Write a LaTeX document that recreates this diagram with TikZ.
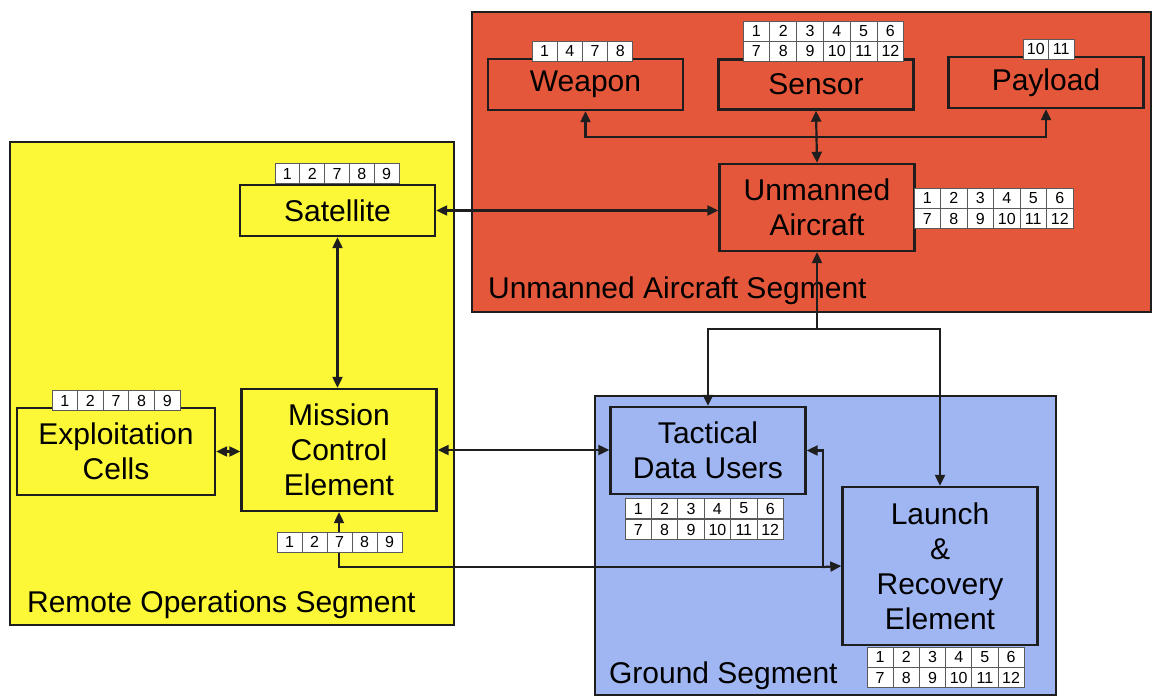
\documentclass[tikz,border=0pt]{standalone}
\usepackage{fontspec}
\setmainfont{Liberation Sans}
\usetikzlibrary{arrows.meta, positioning, calc}
\definecolor{cred}{HTML}{E4573A}
\definecolor{cyellow}{HTML}{FCF838}
\definecolor{cblue}{HTML}{A0B6F2}
\definecolor{cline}{HTML}{1E1E1E}
\definecolor{ccell}{HTML}{5A5A5A}
\tikzset{
  every picture/.style={line width=2.2pt},
  seg/.style={draw=cline, fill=#1, line width=1.6pt},
  box/.style={draw=cline, fill=#1, line width=2.4pt, align=center, inner sep=0pt, minimum width=195pt, font=\fontsize{30}{35}\selectfont},
  box/.default=white,
  cell/.style={draw=ccell, fill=white, line width=1pt, inner sep=0pt, minimum width=#1, minimum height=20pt, font=\fontsize{16}{16}\selectfont},
  cell/.default=25pt,
  link/.style={{Triangle[length=11pt,width=10pt]}-{Triangle[length=11pt,width=10pt]}, draw=cline},
  feed/.style={-{Triangle[length=11pt,width=10pt]}, draw=cline},
  seglabel/.style={anchor=base west, inner sep=0pt, font=\fontsize{30}{35}\selectfont},
}
\begin{document}
\begin{tikzpicture}[x=1pt, y=-1pt]
  \useasboundingbox (0,0) rectangle (1152,696);
  % segments
  \draw[seg=cred] (472,12) rectangle (1151,312);
  \draw[seg=cyellow] (10,142) rectangle (454,625);
  \draw[seg=cblue] (595,396) rectangle (1056,695);
  \node[seglabel] (uas-label) at (487,298) {Unmanned Aircraft Segment};
  \node[seglabel] (ros-label) at (26,612) {Remote Operations Segment};
  \node[seglabel] (gs-label) at (608,683) {Ground Segment};
  % unmanned aircraft segment
  \node[box=cred, minimum height=51pt] (weapon) at (585.5,84.5) {Weapon};
  \node[box=cred, minimum height=50pt] (sensor) at (816,84.5) {Sensor};
  \node[box=cred, minimum height=51pt] (payload) at (1046,82.5) {Payload};
  \node[box=cred, minimum height=87pt] (ua) at (817,207.5) {Unmanned\\Aircraft};
  % remote operations segment
  \node[box=cyellow, minimum height=51pt] (sat) at (337.5,210.5) {Satellite};
  \node[box=cyellow, minimum height=122pt] (mce) at (339,450) {Mission\\Control\\Element};
  \node[box=cyellow, minimum width=198pt, minimum height=87pt] (exp) at (116,451.5) {Exploitation\\Cells};
  % ground segment
  \node[box=cblue, minimum height=87pt] (tdu) at (708,450.5) {Tactical\\Data Users};
  \node[box=cblue, minimum height=158pt] (lre) at (940,566) {Launch\\\&\\Recovery\\Element};
  % links
  \coordinate (bus) at (816,137);
  \draw[link] (weapon.south) |- (bus) -| (payload.south);
  \draw[link] (sensor.south) -- (ua.north);
  \draw[link] (sat.east) -- (sat.east -| ua.west);
  \draw[link] (sat.south) -- (sat.south |- mce.north);
  \draw[link] (exp.east) -- (exp.east -| mce.west);
  \draw[link] (mce.east) -- (mce.east -| tdu.west);
  \coordinate (split) at (817,329);
  \draw[feed] (split) -- (ua.south);
  \draw[feed] (split) -| (tdu.north);
  \draw[feed] (split) -| (lre.north);
  \coordinate (tap) at (823,567);
  \draw[feed] (tap) -| (mce.south);
  \draw[feed] (tap) -- (lre.west);
  \draw[feed] (tap) |- (tdu.east);
  % number cells
  \foreach \n [count=\i] in {1,4,7,8}
    \node[cell=25.2pt] (wpn-\i) at ({532+25.2*(\i-0.5)},51) {\n};
  \foreach \n [count=\i] in {10,11}
    \node[cell=25.5pt] (pay-\i) at ({1023+25.5*(\i-0.5)},49) {\n};
  \foreach \n [count=\i] in {1,2,7,8,9} {
    \node[cell=24.8pt] (sat-\i) at ({275+24.8*(\i-0.5)},173.5) {\n};
    \node[cell=25.6pt] (exp-\i) at ({52+25.6*(\i-0.5)},400.5) {\n};
    \node[cell=25pt] (mce-\i) at ({277+25*(\i-0.5)},542) {\n};
  }
  \foreach \n in {1,...,12} {
    \node[cell=26.8pt] (sen-\n) at ({743+26.8*(mod(\n-1,6)+0.5)},{21+20*(int((\n-1)/6)+0.5)}) {\n};
    \node[cell=26.5pt] (ua-\n) at ({914+26.5*(mod(\n-1,6)+0.5)},{188+20.5*(int((\n-1)/6)+0.5)}) {\n};
    \node[cell=26.4pt] (tdu-\n) at ({625+26.4*(mod(\n-1,6)+0.5)},{498+21*(int((\n-1)/6)+0.5)}) {\n};
    \node[cell=26.2pt] (lre-\n) at ({867+26.2*(mod(\n-1,6)+0.5)},{647+20.5*(int((\n-1)/6)+0.5)}) {\n};
  }
\end{tikzpicture}
\end{document}
